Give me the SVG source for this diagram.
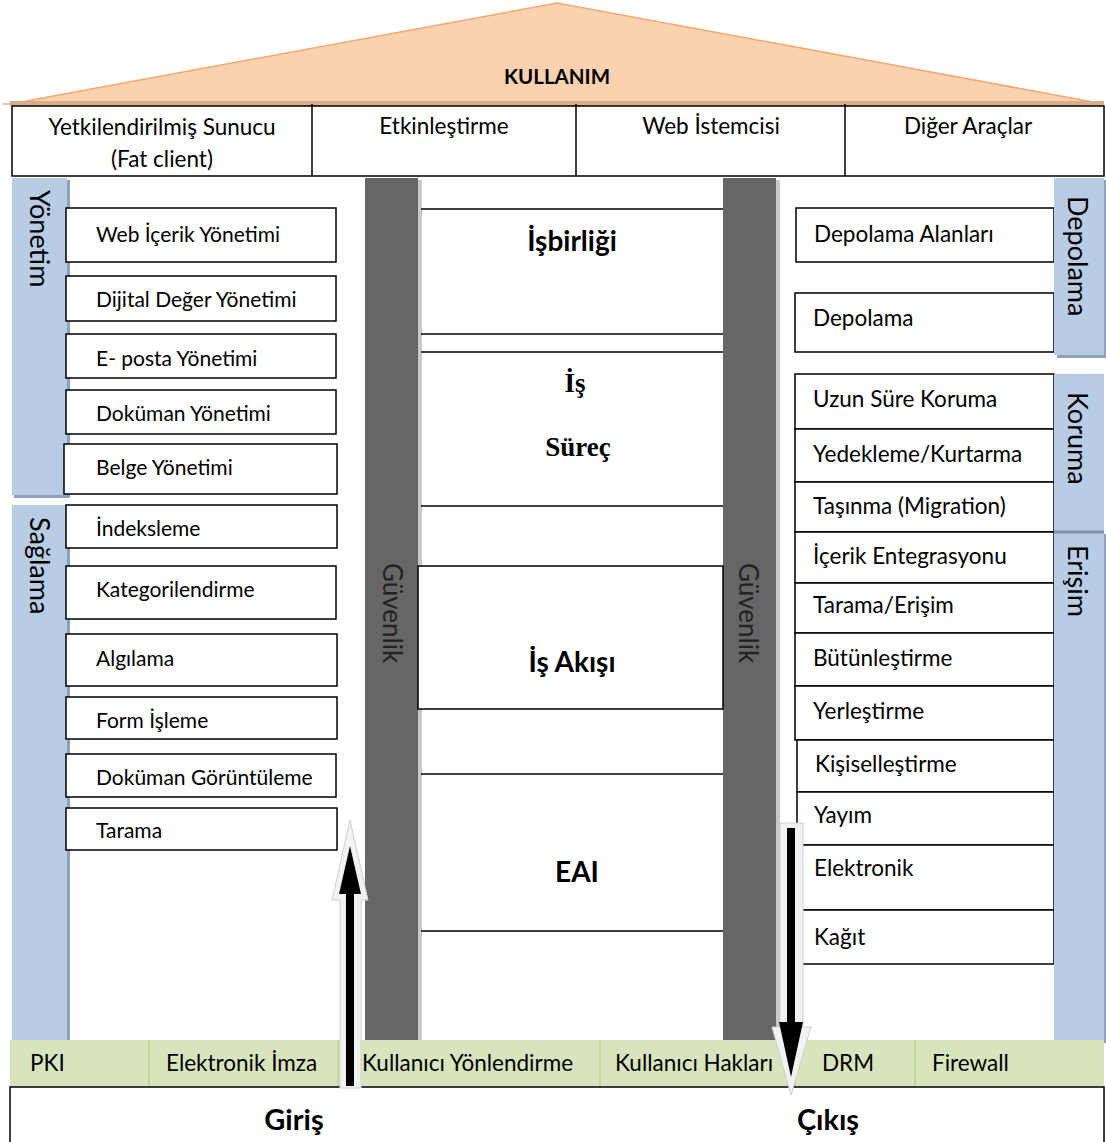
<svg xmlns="http://www.w3.org/2000/svg" width="1106" height="1142" viewBox="0 0 1106 1142">
  <style>
    text { font-family: Lato, "Open Sans", "Liberation Sans", sans-serif; fill: #000; }
    .t { font-size: 22.5px; }
    .tl { font-size: 21px; }
    .b { font-weight: bold; }
    .head { font-weight: bold; font-size: 28px; }
    .serif { font-family: "Liberation Serif", "Times New Roman", serif; font-weight: bold; font-size: 27px; }
    .box { fill: #fff; stroke: #000; stroke-width: 1.5; }
    .rule { stroke: #000; stroke-width: 1.5; fill: none; }
    .band { fill: #B8CCE4; }
    .bandShadow { fill: #8EA2BD; }
    .pillar { fill: #666666; }
    .pillarShadow { fill: #C9C9C9; }
    .green { fill: #D7E4BD; }
    .gdiv { stroke: #C3D69B; stroke-width: 2; }
    .vt { font-size: 27px; }
    .gv { font-size: 26px; fill: #222; }
    .arrowOutline { fill: #F2F2F2; stroke: #D0D0D0; stroke-width: 1; }
    .arrowCore { fill: #000; }
  </style>

  <rect width="1106" height="1142" fill="#fff"/>

  <!-- roof -->
  <g id="roof">
    <polygon points="10,104 557,3 1104,104" fill="#FAD2B0" stroke="#F4A870" stroke-width="1.5"/>
    <rect x="10" y="101" width="1094" height="5" fill="#D9AE8D"/>
    <line x1="3" y1="104" x2="12" y2="104" stroke="#D9AE8D" stroke-width="1.5"/>
    <text x="557" y="84" class="b" font-size="20.5" text-anchor="middle">KULLANIM</text>
  </g>

  <!-- client row -->
  <g id="clients">
    <rect x="12" y="106" width="1092" height="70" class="box"/>
    <line x1="312" y1="104" x2="312" y2="176" class="rule"/>
    <line x1="576" y1="104" x2="576" y2="176" class="rule"/>
    <line x1="845" y1="104" x2="845" y2="176" class="rule"/>
    <text x="162" y="135" class="t" text-anchor="middle">Yetkilendirilmiş Sunucu</text>
    <text x="162" y="167" class="t" text-anchor="middle">(Fat client)</text>
    <text x="444" y="134" class="t" text-anchor="middle">Etkinleştirme</text>
    <text x="711" y="134" class="t" text-anchor="middle">Web İstemcisi</text>
    <text x="968" y="134" class="t" text-anchor="middle">Diğer Araçlar</text>
  </g>

  <!-- left side bands -->
  <g id="band-yonetim">
    <rect x="14" y="180" width="56" height="318" class="bandShadow"/>
    <rect x="12" y="178" width="55" height="317" class="band"/>
    <text class="vt" transform="translate(30,190) rotate(90)">Yönetim</text>
  </g>
  <g id="band-saglama">
    <rect x="14" y="507" width="56" height="536" class="bandShadow"/>
    <rect x="12" y="505" width="55" height="535" class="band"/>
    <text class="vt" transform="translate(30,517) rotate(90)">Sağlama</text>
  </g>

  <!-- left boxes -->
  <g id="web-icerik"><rect x="66" y="208" width="270" height="54" class="box"/><text x="96" y="242" class="tl">Web İçerik Yönetimi</text></g>
  <g id="dijital-deger"><rect x="66" y="276" width="270" height="45" class="box"/><text x="96" y="307" class="tl">Dijital Değer Yönetimi</text></g>
  <g id="eposta"><rect x="66" y="334" width="270" height="44" class="box"/><text x="96" y="366" class="tl">E- posta Yönetimi</text></g>
  <g id="dokuman"><rect x="66" y="390" width="270" height="44" class="box"/><text x="96" y="421" class="tl">Doküman Yönetimi</text></g>
  <g id="belge"><rect x="64" y="444" width="273" height="50" class="box"/><text x="96" y="475" class="tl">Belge Yönetimi</text></g>
  <g id="indeksleme"><rect x="66" y="505" width="271" height="43" class="box"/><text x="96" y="536" class="tl">İndeksleme</text></g>
  <g id="kategorilendirme"><rect x="66" y="566" width="270" height="53" class="box"/><text x="96" y="597" class="tl">Kategorilendirme</text></g>
  <g id="algilama"><rect x="66" y="634" width="271" height="52" class="box"/><text x="96" y="666" class="tl">Algılama</text></g>
  <g id="form-isleme"><rect x="66" y="697" width="271" height="42" class="box"/><text x="96" y="728" class="tl">Form İşleme</text></g>
  <g id="dokuman-goruntuleme"><rect x="66" y="754" width="270" height="43" class="box"/><text x="96" y="785" class="tl">Doküman Görüntüleme</text></g>
  <g id="tarama"><rect x="66" y="808" width="271" height="42" class="box"/><text x="96" y="838" class="tl">Tarama</text></g>

  <!-- security pillars -->
  <g id="guvenlik-left">
    <rect x="418" y="180" width="4" height="862" class="pillarShadow"/>
    <rect x="365" y="178" width="53" height="862" class="pillar"/>
    <text class="gv" transform="translate(383,563) rotate(90)">Güvenlik</text>
  </g>
  <g id="guvenlik-right">
    <rect x="776" y="180" width="4" height="862" class="pillarShadow"/>
    <rect x="723" y="178" width="53" height="862" class="pillar"/>
    <text class="gv" transform="translate(739,563) rotate(90)">Güvenlik</text>
  </g>

  <!-- central process blocks -->
  <g id="isbirligi">
    <line x1="421" y1="209" x2="723" y2="209" class="rule"/>
    <line x1="421" y1="334" x2="723" y2="334" class="rule"/>
    <text x="572" y="251" class="head" text-anchor="middle">İşbirliği</text>
  </g>
  <g id="is-surec">
    <line x1="421" y1="352" x2="723" y2="352" class="rule"/>
    <line x1="421" y1="506" x2="723" y2="506" class="rule"/>
    <text x="575" y="392" class="serif" text-anchor="middle">İş</text>
    <text x="578" y="456" class="serif" text-anchor="middle">Süreç</text>
  </g>
  <g id="is-akisi">
    <rect x="418" y="566" width="305" height="143" class="box"/>
    <text x="572" y="672" class="head" text-anchor="middle">İş Akışı</text>
  </g>
  <g id="eai">
    <line x1="421" y1="774" x2="723" y2="774" class="rule"/>
    <line x1="421" y1="931" x2="723" y2="931" class="rule"/>
    <text x="577" y="882" class="head" font-size="27" text-anchor="middle">EAI</text>
  </g>

  <!-- right boxes -->
  <g id="depolama-alanlari"><rect x="796" y="208" width="258" height="54" class="box"/><text x="814" y="242" class="t">Depolama Alanları</text></g>
  <g id="depolama-kutu"><rect x="795" y="293" width="259" height="59" class="box"/><text x="813" y="326" class="t">Depolama</text></g>
  <g id="uzun-sure"><rect x="795" y="374" width="259" height="55" class="box"/><text x="813" y="407" class="t">Uzun Süre Koruma</text></g>
  <g id="yedekleme"><rect x="795" y="429" width="259" height="53" class="box"/><text x="813" y="462" class="t">Yedekleme/Kurtarma</text></g>
  <g id="tasinma"><rect x="795" y="482" width="259" height="50" class="box"/><text x="813" y="514" class="t">Taşınma (Migration)</text></g>
  <g id="icerik-entegrasyonu"><rect x="795" y="532" width="259" height="51" class="box"/><text x="813" y="564" class="t">İçerik Entegrasyonu</text></g>
  <g id="tarama-erisim"><rect x="795" y="583" width="259" height="50" class="box"/><text x="813" y="613" class="t">Tarama/Erişim</text></g>
  <g id="butunlestirme"><rect x="795" y="633" width="259" height="53" class="box"/><text x="813" y="666" class="t">Bütünleştirme</text></g>
  <g id="yerlestirme"><rect x="795" y="686" width="259" height="54" class="box"/><text x="813" y="719" class="t">Yerleştirme</text></g>
  <g id="kisisellestirme"><rect x="797" y="740" width="257" height="52" class="box"/><text x="815" y="772" class="t">Kişiselleştirme</text></g>
  <g id="yayim"><rect x="797" y="792" width="257" height="53" class="box"/><text x="814" y="823" class="t">Yayım</text></g>
  <g id="elektronik"><rect x="800" y="845" width="254" height="65" class="box"/><text x="814" y="876" class="t">Elektronik</text></g>
  <g id="kagit"><rect x="800" y="910" width="254" height="54" class="box"/><text x="814" y="945" class="t">Kağıt</text></g>

  <!-- right side bands -->
  <g id="band-depolama">
    <rect x="1057" y="180" width="49" height="178" class="bandShadow"/>
    <rect x="1054" y="178" width="50" height="177" class="band"/>
    <text class="vt" transform="translate(1068,196) rotate(90)">Depolama</text>
  </g>
  <g id="band-koruma">
    <rect x="1054" y="374" width="50" height="158" class="band"/>
    <text class="vt" transform="translate(1068,392) rotate(90)">Koruma</text>
  </g>
  <g id="band-erisim">
    <rect x="1057" y="534" width="49" height="509" class="bandShadow"/>
    <rect x="1054" y="532" width="50" height="508" class="band"/>
    <line x1="1054" y1="532" x2="1104" y2="532" stroke="#7F93AE" stroke-width="3"/>
    <text class="vt" transform="translate(1068,545) rotate(90)">Erişim</text>
  </g>

  <!-- infrastructure strip -->
  <g id="infrastructure">
    <rect x="10" y="1040" width="1094" height="47" class="green"/>
    <line x1="149" y1="1040" x2="149" y2="1087" class="gdiv"/>
    <line x1="338" y1="1040" x2="338" y2="1087" class="gdiv"/>
    <line x1="600" y1="1040" x2="600" y2="1087" class="gdiv"/>
    <line x1="795" y1="1040" x2="795" y2="1087" class="gdiv"/>
    <line x1="915" y1="1040" x2="915" y2="1087" class="gdiv"/>
    <text x="30" y="1071" class="t">PKI</text>
    <text x="166" y="1071" class="t">Elektronik İmza</text>
    <text x="362" y="1071" class="t">Kullanıcı Yönlendirme</text>
    <text x="615" y="1071" class="t">Kullanıcı Hakları</text>
    <text x="822" y="1071" class="t">DRM</text>
    <text x="932" y="1071" class="t">Firewall</text>
  </g>

  <!-- input / output base -->
  <g id="base">
    <rect x="10" y="1087" width="1094" height="60" class="box"/>
    <text x="294" y="1130" class="b" font-size="29" text-anchor="middle">Giriş</text>
    <text x="828" y="1130" class="b" font-size="29" text-anchor="middle">Çıkış</text>
  </g>

  <!-- flow arrows -->
  <g id="connectors">
    <g id="arrow-in">
      <polygon points="350,820 368,900 361,900 361,1088 340,1088 340,900 332,900" class="arrowOutline"/>
      <polygon points="350,846 361,894 354,894 354,1086 346,1086 346,894 339,894" class="arrowCore"/>
    </g>
    <g id="arrow-out">
      <polygon points="780,823 803,823 803,1027 811,1027 791,1095 772,1027 780,1027" class="arrowOutline"/>
      <polygon points="787,828 795,828 795,1022 803,1022 791,1077 779,1022 787,1022" class="arrowCore"/>
    </g>
  </g>
</svg>
